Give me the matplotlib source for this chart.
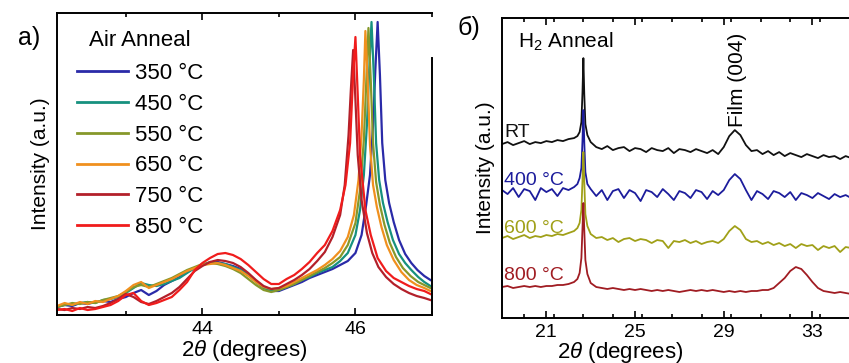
import numpy as np
import matplotlib
matplotlib.use("Agg")
import matplotlib.pyplot as plt
from matplotlib.ticker import FixedLocator, MultipleLocator, NullLocator

plt.rcParams['font.family'] = ['Liberation Sans', 'DejaVu Sans']
plt.rcParams['mathtext.fontset'] = 'custom'
plt.rcParams['mathtext.rm'] = 'Liberation Sans'
plt.rcParams['mathtext.it'] = 'Liberation Sans:italic'
plt.rcParams['xtick.direction'] = 'in'
plt.rcParams['xtick.top'] = True

# ---- panel a : air anneal (intensity in a.u.) ----
tt_low = [42.1, 42.2, 42.3, 42.4, 42.5, 42.6, 42.7, 42.8, 42.9, 43.0,
          43.1, 43.2, 43.3, 43.4, 43.5, 43.6, 43.7, 43.8, 43.9, 44.0,
          44.1, 44.2, 44.3, 44.4, 44.5, 44.6, 44.7, 44.8, 44.9, 45.0,
          45.1, 45.2, 45.3, 45.4, 45.5, 45.6, 45.7]

low_350 = [8, 10, 9, 12, 11, 13, 14, 13, 16, 18, 22, 25, 20, 24, 30, 34, 38, 43, 47, 50,
           52, 53, 51, 49, 46, 41, 34, 28, 24, 24, 27, 30, 33, 37, 40, 43, 46]
pk_x_350 = [45.80, 45.90, 46.00, 46.08, 46.14, 46.19, 46.23, 46.26, 46.29, 46.32, 46.35,
            46.39, 46.44, 46.50, 46.57, 46.65, 46.73, 46.81, 46.90, 46.98]
pk_y_350 = [50, 54, 62, 80, 110, 140, 190, 245, 293, 240, 172,
            135, 112, 93, 75, 61, 52, 45, 39, 35]

low_450 = [8, 11, 10, 12, 13, 12, 15, 16, 18, 22, 27, 32, 30, 29, 31, 34, 37, 42, 47, 50,
           53, 52, 51, 48, 45, 40, 33, 27, 24, 25, 28, 31, 35, 38, 42, 45, 48]
pk_x_450 = [45.80, 45.90, 46.00, 46.06, 46.11, 46.15, 46.18, 46.21, 46.24, 46.27, 46.31,
            46.36, 46.42, 46.49, 46.57, 46.65, 46.73, 46.82, 46.90, 46.98]
pk_y_450 = [54, 62, 80, 105, 140, 190, 245, 293, 240, 172, 135,
            112, 93, 75, 61, 52, 45, 38, 33, 29]

low_550 = [8, 10, 12, 11, 13, 12, 15, 17, 19, 23, 28, 30, 28, 31, 34, 37, 41, 45, 48, 51,
           52, 51, 49, 46, 42, 36, 30, 25, 23, 25, 28, 31, 35, 39, 43, 47, 52]
pk_x_550 = [45.80, 45.90, 46.00, 46.06, 46.11, 46.14, 46.17, 46.20, 46.23, 46.27, 46.32,
            46.38, 46.45, 46.53, 46.62, 46.72, 46.82, 46.90, 46.98]
pk_y_550 = [58, 70, 92, 125, 175, 230, 287, 235, 172, 133, 110,
            90, 72, 58, 47, 39, 33, 30, 27]

low_650 = [9, 12, 10, 13, 11, 14, 13, 16, 19, 24, 30, 33, 27, 30, 33, 36, 40, 44, 47, 50,
           51, 52, 50, 47, 44, 39, 33, 28, 26, 27, 29, 33, 37, 41, 45, 50, 56]
pk_x_650 = [45.80, 45.90, 45.98, 46.04, 46.08, 46.11, 46.13, 46.16, 46.19, 46.23, 46.28,
            46.34, 46.41, 46.50, 46.60, 46.70, 46.80, 46.90, 46.98]
pk_y_650 = [64, 78, 100, 135, 180, 235, 284, 235, 170, 130, 108,
            88, 70, 55, 43, 35, 30, 27, 24]

low_750 = [6, 5, 7, 6, 8, 7, 9, 12, 16, 21, 18, 13, 11, 14, 18, 22, 28, 36, 44, 49,
           53, 55, 54, 52, 48, 42, 35, 29, 26, 27, 31, 35, 40, 46, 54, 63, 78]
pk_x_750 = [45.80, 45.86, 45.91, 45.94, 45.97, 46.00, 46.03, 46.08, 46.15, 46.22, 46.30,
            46.40, 46.50, 46.60, 46.70, 46.80, 46.90, 46.98]
pk_y_750 = [100, 130, 180, 225, 265, 215, 160, 115, 82, 62, 48,
            38, 31, 26, 22, 19, 17, 15]

low_850 = [5, 6, 4, 7, 5, 6, 8, 10, 14, 20, 22, 14, 10, 12, 15, 18, 25, 33, 45, 52,
           57, 61, 62, 60, 56, 50, 43, 36, 31, 31, 36, 40, 46, 53, 62, 70, 84]
pk_x_850 = [45.80, 45.87, 45.93, 45.97, 46.00, 46.03, 46.06, 46.13, 46.20, 46.29, 46.40,
            46.50, 46.60, 46.70, 46.80, 46.90, 46.98]
pk_y_850 = [105, 130, 172, 240, 278, 220, 160, 105, 80, 57, 44,
            37, 33, 29, 26, 24, 21]

air_labels = ['350 °C', '450 °C', '550 °C', '650 °C', '750 °C', '850 °C']
air_colors = ['#2a2aa8', '#16917f', '#86982a', '#f0901e', '#b3202a', '#f01c1c']
air_low = [low_350, low_450, low_550, low_650, low_750, low_850]
air_pk_x = [pk_x_350, pk_x_450, pk_x_550, pk_x_650, pk_x_750, pk_x_850]
air_pk_y = [pk_y_350, pk_y_450, pk_y_550, pk_y_650, pk_y_750, pk_y_850]

# ---- panel b : H2 anneal, stacked scans ----
tt_b = [19.00, 19.25, 19.50, 19.75, 20.00, 20.25, 20.50, 20.75, 21.00, 21.25,
        21.50, 21.75, 22.00, 22.25, 22.40, 22.50, 22.58, 22.63, 22.67, 22.71,
        22.76, 22.85, 23.00, 23.25, 23.50, 23.75, 24.00, 24.25, 24.50, 24.75,
        25.00, 25.25, 25.50, 25.75, 26.00, 26.25, 26.50, 26.75, 27.00, 27.25,
        27.50, 27.75, 28.00, 28.25, 28.50, 28.75, 29.00, 29.25, 29.50, 29.75,
        30.00, 30.25, 30.50, 30.75, 31.00, 31.25, 31.50, 31.75, 32.00, 32.25,
        32.50, 32.75, 33.00, 33.25, 33.50, 33.75, 34.00, 34.25, 34.50, 34.75]

scan_rt = [174, 176, 173, 175, 177, 174, 176, 175, 177, 176, 178, 177, 179, 180,
           182, 186, 196, 226, 260, 224, 194, 183,
           176, 171, 169, 172, 168, 170, 171, 167, 170, 169, 166, 170, 168, 167, 170,
           165, 169, 168, 166, 169, 167, 165, 168, 164, 171, 182, 188, 183, 173, 167,
           168, 164, 167, 163, 166, 162, 165, 163, 161, 164, 162, 160, 163, 161, 162,
           159, 162, 160]
scan_400 = [128, 124, 130, 121, 129, 127, 118, 130, 126, 129, 122, 130, 128, 131,
            134, 140, 150, 178, 208, 176, 146, 134,
            129, 122, 128, 118, 127, 129, 120, 128, 125, 117, 128, 126, 121, 129, 124,
            118, 127, 125, 120, 128, 126, 119, 127, 123, 128, 138, 144, 139, 128, 118,
            127, 124, 119, 127, 125, 121, 126, 118, 125, 123, 120, 125, 122, 119, 124,
            121, 123, 120]
scan_600 = [80, 82, 79, 81, 83, 80, 82, 81, 83, 82, 84, 83, 85, 87,
            90, 95, 108, 138, 166, 136, 104, 92,
            84, 80, 81, 78, 80, 76, 79, 80, 77, 79, 78, 75, 78, 77, 70,
            77, 76, 78, 75, 77, 74, 76, 77, 75, 79, 87, 92, 88, 79, 76,
            77, 74, 76, 73, 75, 72, 74, 70, 74, 72, 73, 68, 72, 70, 72,
            66, 71, 70]
scan_800 = [31, 32, 30, 31, 32, 31, 32, 31, 32, 32, 33, 33, 34, 36,
            39, 45, 60, 90, 115, 88, 58, 44,
            35, 31, 30, 29, 30, 29, 28, 29, 28, 29, 28, 27, 28, 27, 28,
            27, 26, 27, 28, 27, 28, 27, 28, 27, 26, 27, 26, 27, 26, 27,
            27, 28, 28, 30, 35, 40, 47, 51, 49, 43, 36, 30, 27, 26, 25,
            26, 25, 24]

h2_labels = ['RT', '400 °C', '600 °C', '800 °C']
h2_colors = ['#111111', '#1c1c9c', '#a0a018', '#a01c22']
h2_scans = [scan_rt, scan_400, scan_600, scan_800]
h2_label_y = [186, 138, 90, 43]

fig = plt.figure(figsize=(8.49, 3.63), dpi=100)

# panel a
ax1 = fig.add_axes([0.0671, 0.1322, 0.4417, 0.8320])
for lbl, c, lo, px, py in zip(air_labels, air_colors, air_low, air_pk_x, air_pk_y):
    ax1.plot(tt_low + px, lo + py, color=c, lw=1.6, label=lbl)
ax1.set_xlim(42.1, 47.0)
ax1.set_ylim(0, 302)
ax1.xaxis.set_major_locator(FixedLocator([44, 46]))
ax1.xaxis.set_minor_locator(FixedLocator([43, 45, 47]))
ax1.yaxis.set_major_locator(NullLocator())
ax1.tick_params(axis='x', which='major', length=5, width=1.2, labelsize=14, pad=4)
ax1.tick_params(axis='x', which='minor', length=3, width=1.2)
for s in ax1.spines.values():
    s.set_linewidth(1.4)
ax1.spines['right'].set_bounds(0, 257)
ax1.set_xlabel(r'$2\theta$ (degrees)', fontsize=16, labelpad=0)
ax1.set_ylabel('Intensity (a.u.)', fontsize=15, labelpad=5)
leg = ax1.legend(title='Air Anneal', loc='upper left', bbox_to_anchor=(0.053, 0.945),
                 frameon=False, fontsize=16, title_fontsize=16, handlelength=2.3,
                 handletextpad=0.3, labelspacing=0.44, borderpad=0, borderaxespad=0)
leg._legend_box.sep = 9
for h in leg.get_lines():
    h.set_linewidth(2)

# panel b
ax2 = fig.add_axes([0.5913, 0.124, 0.4087, 0.826])
for lbl, c, sc, ly in zip(h2_labels, h2_colors, h2_scans, h2_label_y):
    ax2.plot(tt_b, sc, color=c, lw=1.3)
    ax2.text(19.1, ly, lbl, color=c, fontsize=14, ha='left', va='center')
ax2.set_xlim(19.0, 34.65)
ax2.set_ylim(0, 300)
ax2.xaxis.set_major_locator(FixedLocator([21, 25, 29, 33]))
ax2.xaxis.set_minor_locator(MultipleLocator(4 / 3))
ax2.yaxis.set_major_locator(NullLocator())
ax2.tick_params(axis='x', which='major', length=5, width=1.2, labelsize=14, pad=4)
ax2.tick_params(axis='x', which='minor', length=3, width=1.2)
for s in ax2.spines.values():
    s.set_linewidth(1.4)
ax2.spines['right'].set_visible(False)
ax2.text(19.7, 276, 'H$_2$ Anneal', fontsize=15, ha='left', va='center')
ax2.text(29.6, 238, 'Film (004)', fontsize=15, rotation=90, ha='center', va='center')
ax2.set_xlabel(r'$2\theta$ (degrees)', fontsize=16, labelpad=0)
ax2.xaxis.set_label_coords(0.34, -0.072)
ax2.set_ylabel('Intensity (a.u.)', fontsize=15, labelpad=5)

fig.text(0.021, 0.895, 'a)', fontsize=18, ha='left', va='center')
fig.text(0.539, 0.923, 'б)', fontsize=18, ha='left', va='center')

fig.savefig('out.png', dpi=100)
